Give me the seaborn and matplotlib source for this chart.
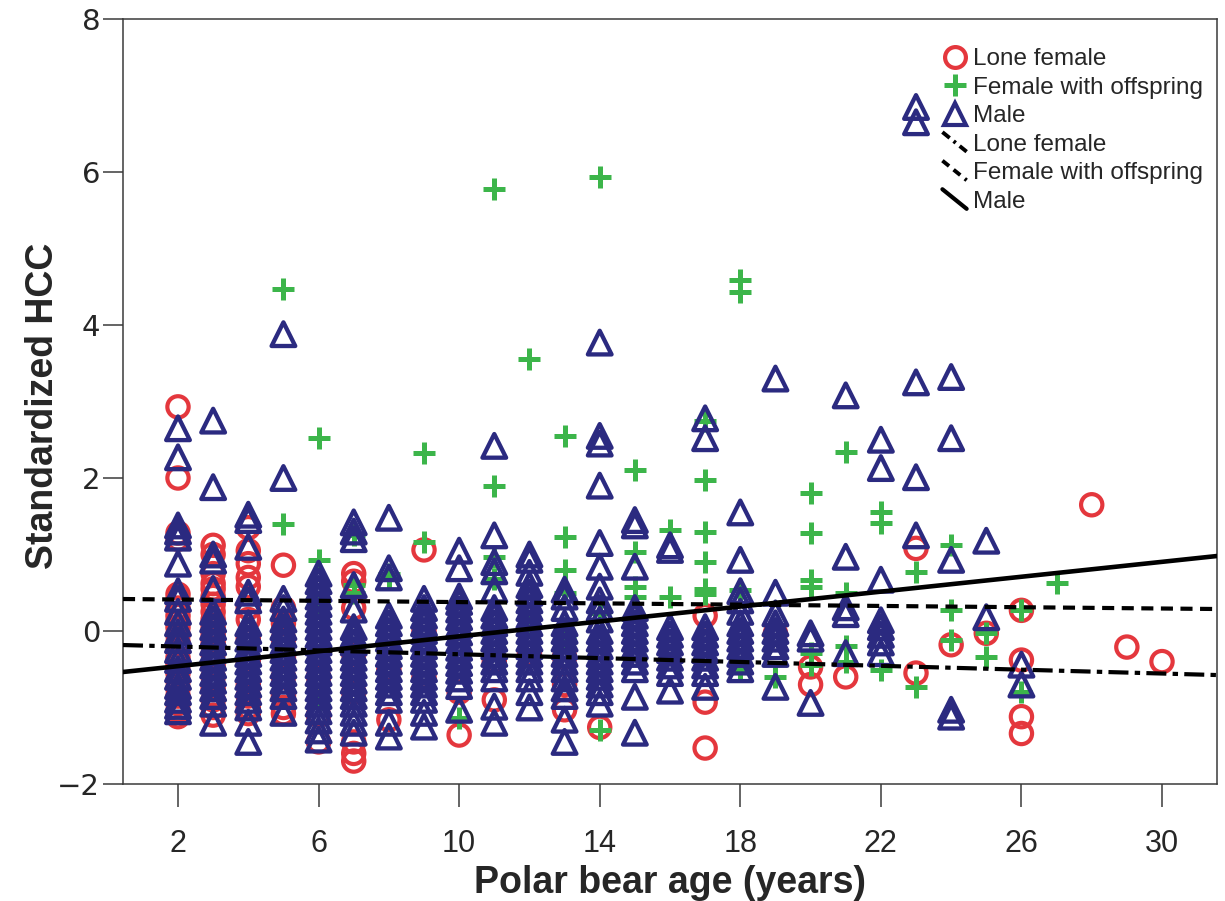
import numpy as np
import pandas as pd
import matplotlib
matplotlib.use("Agg")
import matplotlib.pyplot as plt
import seaborn as sns
from matplotlib.lines import Line2D
from matplotlib.legend_handler import HandlerBase

# ---------------- data ----------------
lone_female_age = [
    2, 2, 2, 2, 2, 2, 2, 2, 2, 2, 2, 2, 2, 2, 2, 2, 2, 2, 2, 2, 2, 2,
    3, 3, 3, 3, 3, 3, 3, 3, 3, 3, 3, 3, 3, 3, 3, 3, 3, 3, 3,
    4, 4, 4, 4, 4, 4, 4, 4, 4, 4, 4, 4, 4,
    5, 5, 5, 5, 5, 5, 5, 5, 5,
    6, 6, 6,
    7, 7, 7, 7, 7, 7, 7, 7,
    8, 8,
    9, 9, 9,
    10, 10,
    11, 11,
    12,
    13, 13, 13,
    14,
    17, 17, 17,
    19,
    20, 20,
    21,
    23, 23,
    24,
    25,
    26, 26, 26, 26,
    28, 29, 30]
lone_female_hcc = [
    2.93, 2.0, 1.28, 1.2, 0.48, 0.4, 0.3, 0.2, 0.12, 0.05, -0.05, -0.15, -0.25, -0.35, -0.45, -0.55, -0.65, -0.75, -0.85, -0.95, -1.05, -1.12,
    1.12, 1.0, 0.75, 0.62, 0.55, 0.45, 0.35, 0.25, 0.15, 0.05, -0.05, -0.15, -0.3, -0.45, -0.6, -0.75, -0.9, -1.0, -1.1,
    1.35, 1.05, 0.88, 0.7, 0.58, 0.3, 0.15, -0.1, -0.4, -0.7, -0.85, -1.0, -1.08,
    0.86, 0.3, 0.1, -0.1, -0.35, -0.6, -0.85, -1.0, -1.08,
    -0.6, -1.1, -1.45,
    0.75, 0.65, 0.3, -0.3, -0.8, -1.45, -1.6, -1.7,
    -0.5, -1.16,
    1.06, 0.0, -0.6,
    -0.8, -1.36,
    -0.9, -0.4,
    -0.3,
    -0.34, -1.03, -0.7,
    -1.26,
    0.2, -0.93, -1.53,
    -0.03,
    -0.47, -0.7,
    -0.6,
    1.08, -0.55,
    -0.18,
    -0.03,
    0.27, -0.38, -1.12, -1.34,
    1.65, -0.21, -0.4]

offspring_age = [
    5, 5,
    6, 6, 6, 6,
    7, 7, 7,
    8, 8,
    9, 9,
    10,
    11, 11, 11, 11,
    12, 12,
    13, 13, 13, 13, 13,
    14, 14, 14,
    15, 15, 15, 15,
    16, 16,
    17, 17, 17, 17, 17, 17,
    18, 18, 18, 18,
    19,
    20, 20, 20, 20, 20, 20,
    21, 21, 21, 21,
    22, 22, 22,
    23, 23,
    24, 24, 24,
    25, 25,
    26, 26,
    27]
offspring_hcc = [
    4.47, 1.4,
    2.52, 0.93, 0.37, -0.9,
    1.25, 0.6, 0.5,
    0.75, 0.68,
    2.33, 1.16,
    -1.14,
    5.78, 1.9, 0.97, 0.68,
    3.55, 0.1,
    2.55, 1.23, 0.8, 0.5, -0.08,
    5.93, 0.23, -1.3,
    2.1, 1.03, 0.58, 0.45,
    1.32, 0.45,
    2.75, 1.97, 1.3, 0.9, 0.55, 0.49,
    4.59, 4.43, 0.54, -0.5,
    -0.6,
    1.8, 1.28, 0.67, 0.58, -0.29, -0.45,
    2.34, 0.5, -0.2, -0.4,
    1.55, 1.41, -0.51,
    0.77, -0.73,
    1.12, 0.27, -0.12,
    -0.03, -0.34,
    0.27, -0.8,
    0.63]

male_age = [
    2, 2, 2, 2, 2, 2, 2, 2, 2, 2, 2, 2, 2, 2, 2, 2, 2, 2, 2, 2, 2,
    3, 3, 3, 3, 3, 3, 3, 3, 3, 3, 3, 3, 3, 3, 3, 3, 3, 3, 3,
    4, 4, 4, 4, 4, 4, 4, 4, 4, 4, 4, 4, 4, 4, 4, 4, 4, 4, 4,
    5, 5, 5, 5, 5, 5, 5, 5, 5, 5, 5, 5, 5, 5, 5, 5,
    6, 6, 6, 6, 6, 6, 6, 6, 6, 6, 6, 6, 6, 6, 6, 6, 6, 6, 6, 6, 6, 6,
    7, 7, 7, 7, 7, 7, 7, 7, 7, 7, 7, 7, 7, 7, 7, 7, 7, 7, 7,
    8, 8, 8, 8, 8, 8, 8, 8, 8, 8, 8, 8, 8, 8, 8, 8, 8,
    9, 9, 9, 9, 9, 9, 9, 9, 9, 9, 9, 9, 9, 9, 9, 9,
    10, 10, 10, 10, 10, 10, 10, 10, 10, 10, 10, 10, 10, 10, 10, 10,
    11, 11, 11, 11, 11, 11, 11, 11, 11, 11, 11, 11, 11, 11, 11, 11, 11,
    12, 12, 12, 12, 12, 12, 12, 12, 12, 12, 12, 12, 12, 12, 12, 12, 12, 12,
    13, 13, 13, 13, 13, 13, 13, 13, 13, 13, 13, 13, 13, 13, 13,
    14, 14, 14, 14, 14, 14, 14, 14, 14, 14, 14, 14, 14, 14, 14, 14, 14, 14, 14, 14,
    15, 15, 15, 15, 15, 15, 15, 15, 15, 15, 15, 15, 15, 15,
    16, 16, 16, 16, 16, 16, 16, 16, 16, 16,
    17, 17, 17, 17, 17, 17, 17, 17, 17, 17,
    18, 18, 18, 18, 18, 18, 18, 18, 18, 18, 18, 18,
    19, 19, 19, 19, 19, 19, 19, 19, 19,
    20, 20, 20,
    21, 21, 21, 21, 21,
    22, 22, 22, 22, 22, 22, 22, 22,
    23, 23, 23, 23, 23,
    24, 24, 24, 24, 24,
    25, 25,
    26, 26]
male_hcc = [
    2.65, 2.27, 1.38, 1.3, 1.22, 0.88, 0.52, 0.42, 0.25, 0.1, -0.02, -0.12, -0.25, -0.38, -0.5, -0.6, -0.72, -0.8, -0.9, -0.98, -1.05,
    2.75, 1.88, 1.0, 0.92, 0.55, 0.25, 0.15, 0.05, -0.05, -0.15, -0.25, -0.35, -0.45, -0.55, -0.65, -0.75, -0.85, -0.95, -1.2,
    1.52, 1.45, 1.1, 0.5, 0.4, 0.1, 0.0, -0.1, -0.2, -0.3, -0.4, -0.5, -0.6, -0.7, -0.8, -0.9, -1.0, -1.2, -1.45,
    3.88, 2.0, 0.42, 0.3, 0.15, 0.05, -0.05, -0.15, -0.25, -0.35, -0.45, -0.55, -0.65, -0.75, -0.85, -1.07,
    0.75, 0.65, 0.55, 0.45, 0.35, 0.25, 0.15, 0.05, -0.05, -0.15, -0.25, -0.35, -0.45, -0.55, -0.65, -0.75, -0.85, -0.95, -1.05, -1.17, -1.3, -1.42,
    1.42, 1.3, 1.2, 0.6, 0.28, 0.05, -0.05, -0.15, -0.25, -0.35, -0.45, -0.55, -0.65, -0.75, -0.85, -0.95, -1.07, -1.2, -1.33,
    1.48, 0.82, 0.7, 0.2, 0.1, 0.0, -0.1, -0.2, -0.3, -0.4, -0.5, -0.6, -0.7, -0.8, -0.9, -1.2, -1.38,
    0.42, 0.3, 0.2, 0.1, 0.0, -0.1, -0.2, -0.3, -0.4, -0.5, -0.6, -0.7, -0.8, -0.9, -1.07, -1.25,
    1.05, 0.82, 0.45, 0.38, 0.28, 0.18, 0.08, -0.02, -0.12, -0.22, -0.32, -0.42, -0.52, -0.62, -0.72, -1.03,
    2.42, 1.25, 0.9, 0.78, 0.54, 0.3, 0.2, 0.1, 0.0, -0.1, -0.2, -0.3, -0.4, -0.5, -0.62, -0.99, -1.2,
    1.0, 0.93, 0.76, 0.6, 0.5, 0.4, 0.3, 0.2, 0.1, 0.0, -0.1, -0.2, -0.3, -0.4, -0.5, -0.62, -0.8, -1.0,
    0.54, 0.45, 0.3, 0.1, 0.0, -0.1, -0.2, -0.3, -0.4, -0.5, -0.62, -0.75, -0.85, -1.16, -1.45,
    3.77, 2.55, 2.45, 1.9, 1.15, 0.84, 0.58, 0.4, 0.3, 0.15, 0.0, -0.1, -0.2, -0.3, -0.4, -0.5, -0.6, -0.7, -0.8, -0.95,
    1.45, 1.38, 0.84, 0.3, 0.2, 0.1, 0.0, -0.1, -0.2, -0.3, -0.4, -0.5, -0.86, -1.33,
    1.12, 1.06, 0.05, -0.05, -0.15, -0.25, -0.35, -0.45, -0.55, -0.78,
    2.78, 2.52, 0.05, -0.05, -0.15, -0.25, -0.35, -0.45, -0.55, -0.73,
    1.55, 0.93, 0.52, 0.4, 0.25, 0.1, 0.0, -0.1, -0.2, -0.3, -0.4, -0.5,
    3.3, 0.5, 0.23, 0.1, 0.0, -0.1, -0.2, -0.3, -0.73,
    -0.03, -0.1, -0.94,
    3.08, 0.97, 0.31, 0.22, -0.29,
    2.5, 2.13, 0.67, 0.14, 0.05, -0.05, -0.15, -0.29,
    6.85, 6.65, 3.25, 2.01, 1.25,
    3.32, 2.52, 0.93, -1.03, -1.12,
    1.18, 0.18,
    -0.44, -0.7]

# fitted regression lines (intercept at age 0, slope per year)
fit_groups = ["Lone female", "Female with offspring", "Male"]
fit_intercepts = [-0.178, 0.420, -0.557]
fit_slopes = [-0.0126, -0.0042, 0.0487]

x_ticks = [2, 6, 10, 14, 18, 22, 26, 30]
y_ticks = [-2, 0, 2, 4, 6, 8]

# ---------------- style ----------------
RED = "#e4373d"
GREEN = "#3cb54a"
NAVY = "#2b2a80"
AXC = "#3a3a3a"

sns.set_style("ticks")
plt.rcParams["font.family"] = ["Liberation Sans", "DejaVu Sans"]

df = pd.concat([
    pd.DataFrame({"age": lone_female_age, "hcc": lone_female_hcc, "group": "Lone female"}),
    pd.DataFrame({"age": offspring_age, "hcc": offspring_hcc, "group": "Female with offspring"}),
    pd.DataFrame({"age": male_age, "hcc": male_hcc, "group": "Male"}),
], ignore_index=True)

fig = plt.figure(figsize=(12.25, 9.01), dpi=100)
ax = fig.add_axes([123 / 1225, 117 / 901, 1094 / 1225, 765 / 901])

sns.scatterplot(data=df[df.group == "Lone female"], x="age", y="hcc", ax=ax,
                marker="o", s=235, color=RED, facecolors="none", edgecolor=RED,
                linewidth=3.0, legend=False, zorder=2)
sns.scatterplot(data=df[df.group == "Female with offspring"], x="age", y="hcc", ax=ax,
                marker="+", s=250, color=GREEN, linewidth=3.6, legend=False, zorder=3)
sns.scatterplot(data=df[df.group == "Male"], x="age", y="hcc", ax=ax,
                marker="^", s=290, color=NAVY, facecolors="none", edgecolor=NAVY,
                linewidth=3.1, legend=False, zorder=4)

line_styles = {
    "Lone female": dict(linestyle=(0, (4.8, 1.5, 1.3, 1.5)), linewidth=3.0),
    "Female with offspring": dict(linestyle=(0, (2.9, 1.8)), linewidth=3.0),
    "Male": dict(linestyle="-", linewidth=3.3),
}
for g, b, m in zip(fit_groups, fit_intercepts, fit_slopes):
    ax.axline((0, b), slope=m, color="black", zorder=6, **line_styles[g])

ax.set_xlim(0.435, 31.565)
ax.set_ylim(-2, 8)

ax.set_xticks(x_ticks)
ax.set_xticklabels([str(t) for t in x_ticks], fontsize=22)
ax.set_yticks(y_ticks)
ax.set_yticklabels([("\u2212" + str(-t)) if t < 0 else str(t) for t in y_ticks],
                   fontsize=21, family=["DejaVu Sans"])
ax.tick_params(axis="x", length=16.5, width=1.1, color=AXC, pad=16, direction="out")
ax.tick_params(axis="y", length=14.4, width=1.1, color=AXC, pad=2, direction="out")
for sp in ax.spines.values():
    sp.set_visible(True)
    sp.set_color(AXC)
    sp.set_linewidth(1.1)

ax.set_xlabel("Polar bear age (years)", fontsize=27, fontweight="bold")
ax.set_ylabel("Standardized HCC", fontsize=27, fontweight="bold")
ax.xaxis.set_label_coords(0.5, -0.106)
ax.yaxis.set_label_coords(-0.057, 0.495)


class DiagHandler(HandlerBase):
    def create_artists(self, legend, orig_handle, xdescent, ydescent,
                       width, height, fontsize, trans):
        x0 = -xdescent + 0.0 * width
        x1 = -xdescent + 0.95 * width
        y0 = -ydescent + 1.1 * height
        y1 = -ydescent - 0.05 * height
        line = Line2D([x0, x1], [y0, y1])
        line.update_from(orig_handle)
        line.set_transform(trans)
        return [line]


handles = [
    Line2D([], [], marker="o", ls="", mfc="none", mec=RED, mew=3.0, ms=15),
    Line2D([], [], marker="+", ls="", mec=GREEN, mew=3.6, ms=16),
    Line2D([], [], marker="^", ls="", mfc="none", mec=NAVY, mew=3.0, ms=16),
    Line2D([], [], color="black", linestyle=(0, (2.4, 1.3, 0.7, 1.3)), linewidth=2.8),
    Line2D([], [], color="black", linestyle=(0, (2.2, 1.5)), linewidth=2.8),
    Line2D([], [], color="black", linestyle="-", linewidth=3.0),
]
labels = ["Lone female", "Female with offspring", "Male",
          "Lone female", "Female with offspring", "Male"]
diag = DiagHandler()
leg = ax.legend(handles, labels, loc="upper left", bbox_to_anchor=(0.749, 0.962),
                frameon=False, fontsize=17.5, handlelength=1.05, handletextpad=0.2,
                labelspacing=0.27, borderpad=0, borderaxespad=0, numpoints=1,
                handler_map={handles[3]: diag, handles[4]: diag, handles[5]: diag})

fig.savefig("out.png", dpi=100, facecolor="white")
